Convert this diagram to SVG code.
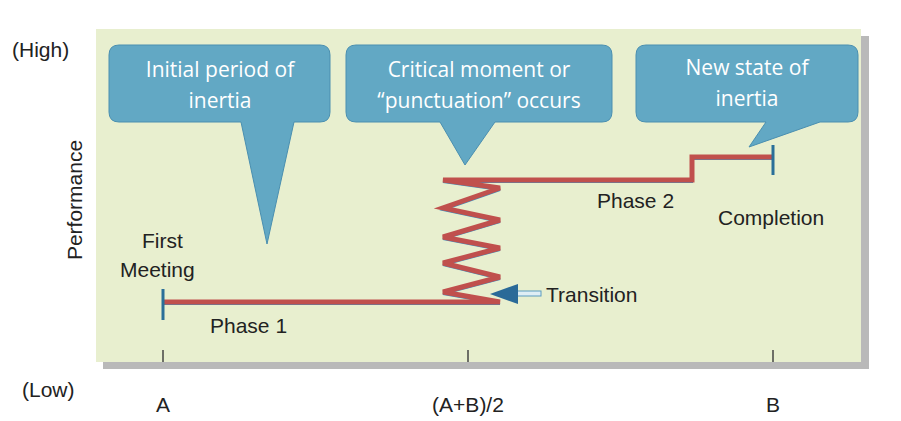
<svg xmlns="http://www.w3.org/2000/svg" width="901" height="421" viewBox="0 0 901 421">
<style>
.lbl{font-family:"Liberation Sans",Arial,sans-serif;font-size:21px;fill:#222}
.co{fill:#62a8c4;stroke:#4a8fb0;stroke-width:1}
.ct{font-family:"Open Sans","Liberation Sans",sans-serif;font-size:21px;fill:#fff;text-anchor:middle}
.tick{stroke:#444;stroke-width:1.5}
</style>
<rect x="0" y="0" width="901" height="421" fill="#fff"/>
<rect x="103" y="36" width="766" height="333" fill="#8a8a8a" opacity="0.6"/>
<rect x="96" y="29" width="765" height="333" fill="#e8efcf"/>
<text class="lbl" x="12" y="57">(High)</text>
<text class="lbl" x="22" y="397">(Low)</text>
<text class="lbl" transform="translate(82,200) rotate(-90)" text-anchor="middle">Performance</text>
<g id="axis">
<line class="tick" x1="163" y1="350" x2="163" y2="362"/>
<line class="tick" x1="468" y1="350" x2="468" y2="362"/>
<line class="tick" x1="773" y1="350" x2="773" y2="362"/>
<text class="lbl" x="163" y="412" text-anchor="middle">A</text>
<text class="lbl" x="468" y="412" text-anchor="middle">(A+B)/2</text>
<text class="lbl" x="773" y="412" text-anchor="middle">B</text>
</g>
<g id="connectors">
<path d="M163,304 L500,304 L443,294 L500,279 L443,265 L500,250 L443,239 L500,222 L443,210 L500,190 L443,182 L692,182 L692,159 L772,159" fill="none" stroke="#3d8fc0" stroke-width="2"/>
<path d="M163,302 L500,302 L443,292 L500,277 L443,263 L500,248 L443,237 L500,220 L443,208 L500,188 L443,180 L692,180 L692,157 L772,157" fill="none" stroke="#c0504d" stroke-width="5" stroke-linejoin="miter"/>
<line x1="163" y1="289" x2="163" y2="320" stroke="#2a6f99" stroke-width="3"/>
<line x1="773" y1="145" x2="773" y2="175" stroke="#2a6f99" stroke-width="3"/>
<rect x="516" y="291" width="25" height="5" fill="#dfeef5" stroke="#5a9cc0" stroke-width="1"/>
<polygon points="490,294 518,284 518,304" fill="#2a6a98"/>
</g>
<g id="labels">
<text class="lbl" x="142" y="248">First</text>
<text class="lbl" x="120" y="277">Meeting</text>
<text class="lbl" x="210" y="333">Phase 1</text>
<text class="lbl" x="597" y="208">Phase 2</text>
<text class="lbl" x="718" y="225">Completion</text>
<text class="lbl" x="546" y="302">Transition</text>
</g>
<g id="callout1">
<path class="co" d="M119,45 H320 Q330,45 330,55 V112 Q330,122 320,122 H294 L267,244 L241,122 H119 Q109,122 109,112 V55 Q109,45 119,45 Z"/>
<text class="ct" x="220" y="77">Initial period of</text>
<text class="ct" x="220" y="108">inertia</text>
</g>
<g id="callout2">
<path class="co" d="M356,45 H602 Q612,45 612,55 V112 Q612,122 602,122 H495 L465,165 L440,122 H356 Q346,122 346,112 V55 Q346,45 356,45 Z"/>
<text class="ct" x="479" y="77">Critical moment or</text>
<text class="ct" x="479" y="108">“punctuation” occurs</text>
</g>
<g id="callout3">
<path class="co" d="M646,45 H848 Q858,45 858,55 V112 Q858,122 848,122 H820 L749,147 L766,122 H646 Q636,122 636,112 V55 Q636,45 646,45 Z"/>
<text class="ct" x="747" y="75">New state of</text>
<text class="ct" x="747" y="106">inertia</text>
</g>
</svg>
